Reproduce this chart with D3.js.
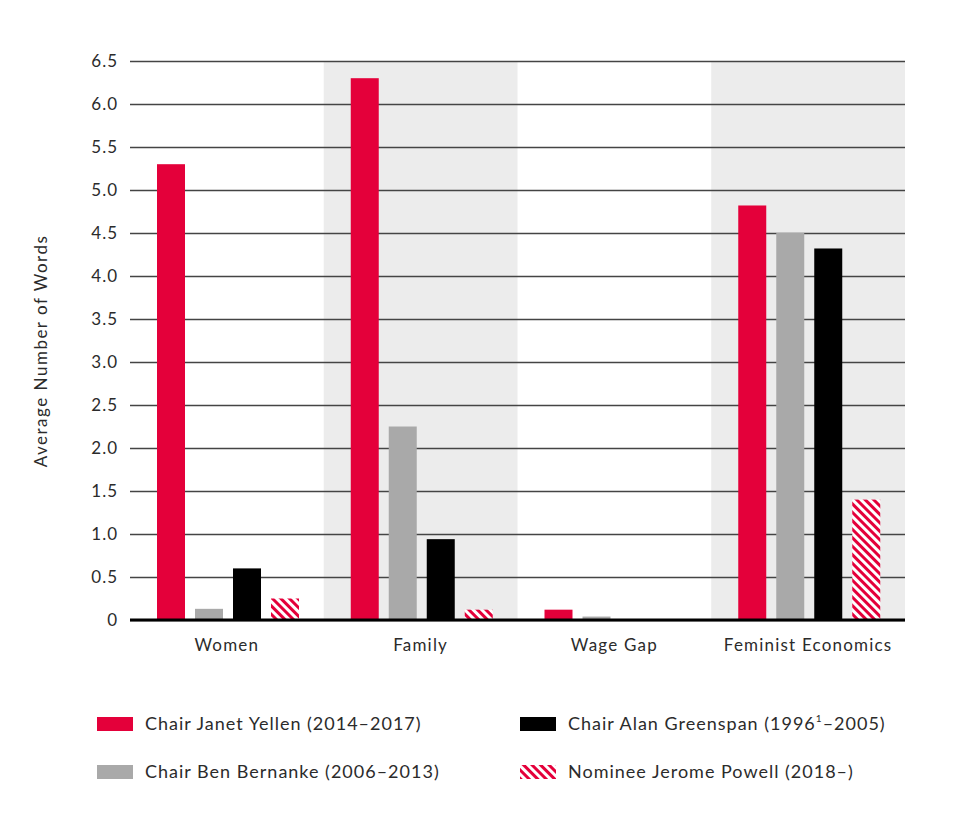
<!DOCTYPE html>
<html>
<head>
<meta charset="utf-8">
<script src="https://cdn.jsdelivr.net/npm/d3@7"></script>
<style>
  body { margin: 0; background: #fff; }
  text { font-family: Lato, "Noto Sans", sans-serif; fill: #2b2b2b; }
</style>
</head>
<body>
<div id="chart"></div>
<script>
    const categories = ["Women", "Family", "Wage Gap", "Feminist Economics"];
    const seriesNames = ["yellen", "bernanke", "greenspan", "powell"];
    const yellen = [5.3, 6.3, 0.12, 4.82];
    const bernanke = [0.13, 2.25, 0.04, 4.5];
    const greenspan = [0.6, 0.94, 0, 4.32];
    const powell = [0.25, 0.12, 0, 1.4];
    const yTicks = [0, 0.5, 1.0, 1.5, 2.0, 2.5, 3.0, 3.5, 4.0, 4.5, 5.0, 5.5, 6.0, 6.5];
    const legendItems = [
        { key: "yellen", label: "Chair Janet Yellen (2014\u20132017)" },
        { key: "bernanke", label: "Chair Ben Bernanke (2006\u20132013)" },
        { key: "greenspan", label: "Chair Alan Greenspan (1996", sup: "1", rest: "\u20132005)" },
        { key: "powell", label: "Nominee Jerome Powell (2018\u2013)" }
    ];

    const width = 960, height = 816;
    const plotLeft = 130, plotRight = 905, plotTop = 61, plotBottom = 620;

    const fills = {
        yellen: "#e4003a",
        bernanke: "#a9a9a9",
        greenspan: "#000",
        powell: "url(#hatch)"
    };
    const values = { yellen, bernanke, greenspan, powell };

    const svg = d3.select("#chart")
        .append("svg")
        .attr("width", width)
        .attr("height", height);

    const defs = svg.append("defs");
    const pat = defs.append("pattern")
        .attr("id", "hatch")
        .attr("patternUnits", "userSpaceOnUse")
        .attr("width", 6)
        .attr("height", 6)
        .attr("patternTransform", "rotate(-45)");
    pat.append("rect").attr("width", 6).attr("height", 6).attr("fill", "#fff");
    pat.append("rect").attr("width", 3).attr("height", 6).attr("fill", "#e4003a");

    const x0 = d3.scaleBand()
        .domain(categories)
        .range([plotLeft, plotRight])
        .paddingInner(0)
        .paddingOuter(0);

    const x1 = d3.scaleBand()
        .domain(seriesNames)
        .range([27, 27 + 38 * 4 - 10])
        .paddingInner(10 / 38)
        .paddingOuter(0);

    const y = d3.scaleLinear()
        .domain([0, 6.5])
        .range([plotBottom, plotTop]);

    // shaded bands behind every other group
    svg.append("g")
        .selectAll("rect")
        .data(categories.filter((d, i) => i % 2 === 1))
        .join("rect")
        .attr("x", d => x0(d))
        .attr("y", plotTop)
        .attr("width", x0.bandwidth())
        .attr("height", plotBottom - plotTop)
        .attr("fill", "#ececec");

    // gridlines + tick labels
    const yAxis = svg.append("g")
        .attr("transform", `translate(${plotLeft},0)`)
        .call(d3.axisLeft(y)
            .tickValues(yTicks)
            .tickSize(-(plotRight - plotLeft))
            .tickPadding(12)
            .tickFormat(d => d === 0 ? "0" : d3.format(".1f")(d)));
    yAxis.select(".domain").remove();
    yAxis.selectAll(".tick line")
        .attr("stroke", "#444")
        .attr("stroke-width", 1.5);
    yAxis.selectAll(".tick text")
        .style("font-family", "Lato, 'Noto Sans', sans-serif")
        .style("font-size", "17px")
        .style("letter-spacing", "1px")
        .attr("fill", "#2b2b2b");

    // bars
    const groups = svg.append("g")
        .selectAll("g")
        .data(categories)
        .join("g")
        .attr("transform", d => `translate(${x0(d)},0)`);

    groups.selectAll("rect")
        .data((d, i) => seriesNames.map(s => ({ key: s, value: values[s][i] })))
        .join("rect")
        .attr("x", d => x1(d.key))
        .attr("y", d => y(d.value))
        .attr("width", x1.bandwidth())
        .attr("height", d => y(0) - y(d.value))
        .attr("fill", d => fills[d.key]);

    // baseline
    svg.append("line")
        .attr("x1", plotLeft)
        .attr("x2", plotRight)
        .attr("y1", y(0))
        .attr("y2", y(0))
        .attr("stroke", "#000")
        .attr("stroke-width", 3);

    // category labels
    svg.append("g")
        .selectAll("text")
        .data(categories)
        .join("text")
        .attr("x", d => x0(d) + x0.bandwidth() / 2)
        .attr("y", 651)
        .attr("text-anchor", "middle")
        .style("font-size", "17px")
        .style("letter-spacing", "1.2px")
        .text(d => d);

    // y axis title
    svg.append("text")
        .attr("transform", "translate(47,351) rotate(-90)")
        .attr("text-anchor", "middle")
        .style("font-size", "17px")
        .style("letter-spacing", "1.5px")
        .text("Average Number of Words");

    // legend
    const legendPos = [[97, 724], [97, 772], [520, 724], [520, 772]];
    const leg = svg.append("g")
        .selectAll("g")
        .data(legendItems)
        .join("g")
        .attr("transform", (d, i) => `translate(${legendPos[i][0]},${legendPos[i][1]})`);

    leg.append("rect")
        .attr("x", 0)
        .attr("y", -7)
        .attr("width", 36)
        .attr("height", 14)
        .attr("fill", d => fills[d.key]);

    const lt = leg.append("text")
        .attr("x", 48)
        .attr("y", 6)
        .style("font-size", "18px")
        .style("letter-spacing", "1px");
    lt.append("tspan").text(d => d.label);
    lt.filter(d => d.sup).append("tspan")
        .attr("dy", -8)
        .style("font-size", "10px")
        .text(d => d.sup);
    lt.filter(d => d.sup).append("tspan")
        .attr("dy", 8)
        .text(d => d.rest);
</script>
</body>
</html>
